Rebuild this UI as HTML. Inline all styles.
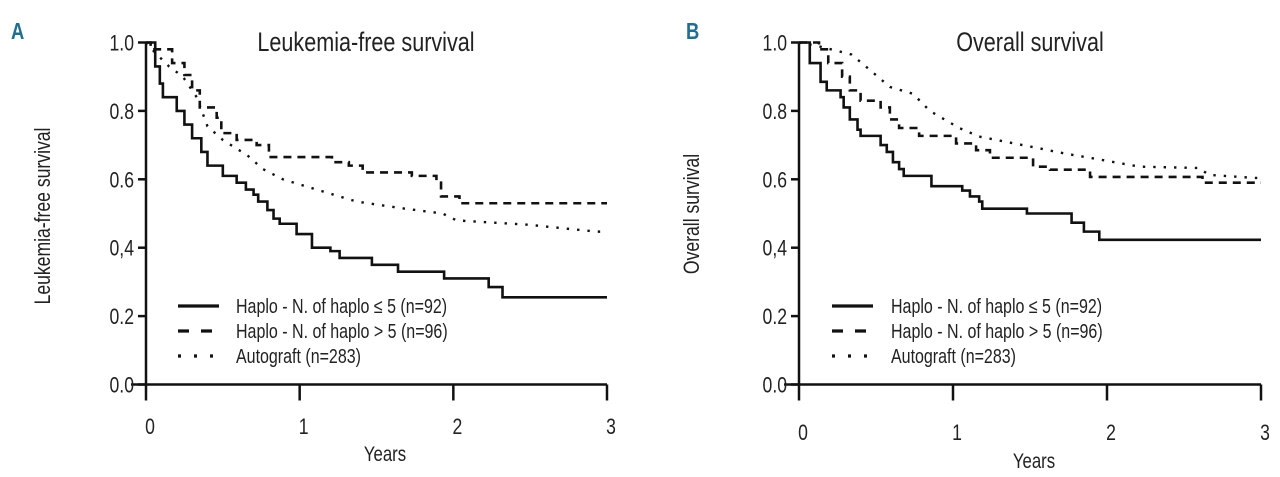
<!DOCTYPE html>
<html><head><meta charset="utf-8"><style>
html,body{margin:0;padding:0;background:#fff;}
svg{display:block;}
text{font-family:"Liberation Sans",sans-serif;fill:#222;transform-box:fill-box;transform:scaleX(0.8);}
text.ns{transform-origin:left center;}
text.nm{transform-origin:center center;}
text.ne{transform-origin:right center;}
</style></head><body>
<svg id="chart" width="1280" height="477" viewBox="0 0 1280 477" xmlns="http://www.w3.org/2000/svg">
<text x="11" y="39" class="ns" style="font-weight:bold;font-size:23px;fill:#1f6f93;">A</text>
<text x="686" y="39" class="ns" style="font-weight:bold;font-size:23px;fill:#1f6f93;">B</text>
<text x="366" y="51" class="nm" text-anchor="middle" font-size="27">Leukemia-free survival</text>
<text x="1030" y="51" class="nm" text-anchor="middle" font-size="27">Overall survival</text>
<g transform="translate(50,216) rotate(-90)"><text x="0" y="0" class="nm" text-anchor="middle" font-size="22">Leukemia-free survival</text></g>
<g transform="translate(699,214) rotate(-90)"><text x="0" y="0" class="nm" text-anchor="middle" font-size="22">Overall survival</text></g>
<text x="385" y="461" class="nm" text-anchor="middle" font-size="21">Years</text>
<text x="1034" y="468" class="nm" text-anchor="middle" font-size="21">Years</text>
<g id="gA"></g><g id="gB"></g>
</svg>
<script>
const yTickVals = [0, 0.2, 0.4, 0.6, 0.8, 1.0];
const yTickLabels = ["0.0", "0.2", "0,4", "0.6", "0.8", "1.0"];
const xTickVals = [0, 1, 2, 3];
const xTickLabels = ["0", "1", "2", "3"];
const legendLabels = ["Haplo - N. of haplo \u2264 5 (n=92)", "Haplo - N. of haplo > 5 (n=96)", "Autograft (n=283)"];

const aSolidT = [0,0.06,0.09,0.11,0.2,0.25,0.3,0.36,0.4,0.5,0.59,0.65,0.7,0.73,0.79,0.83,0.87,0.98,1.08,1.2,1.26,1.47,1.64,1.94,2.23,2.32];
const aSolidS = [1,0.93,0.88,0.84,0.80,0.76,0.72,0.68,0.64,0.61,0.59,0.57,0.555,0.535,0.51,0.485,0.47,0.44,0.40,0.39,0.37,0.35,0.33,0.31,0.285,0.255];
const aDashT = [0,0.03,0.17,0.25,0.3,0.35,0.46,0.49,0.59,0.72,0.8,1.21,1.32,1.41,1.73,1.89,1.92,2.04];
const aDashS = [1,0.98,0.94,0.905,0.86,0.81,0.78,0.735,0.715,0.70,0.665,0.65,0.64,0.62,0.61,0.59,0.55,0.53];
const aDotT = [0,0.06,0.15,0.24,0.33,0.40,0.5,0.66,0.76,0.89,1.11,1.37,1.67,1.93,2.02,2.49,2.93];
const aDotS = [1,0.97,0.93,0.90,0.84,0.755,0.715,0.67,0.63,0.60,0.57,0.535,0.515,0.50,0.48,0.467,0.447];

const bSolidT = [0,0.07,0.14,0.18,0.27,0.29,0.33,0.38,0.4,0.53,0.57,0.61,0.65,0.68,0.86,1.06,1.11,1.17,1.19,1.48,1.77,1.85,1.95];
const bSolidS = [1,0.94,0.885,0.86,0.84,0.81,0.775,0.745,0.727,0.70,0.68,0.65,0.63,0.61,0.58,0.567,0.55,0.535,0.514,0.50,0.473,0.447,0.423];
const bDashT = [0,0.13,0.19,0.28,0.33,0.4,0.53,0.59,0.65,0.78,1.02,1.15,1.24,1.52,1.63,1.89,2.62];
const bDashS = [1,0.98,0.94,0.90,0.86,0.83,0.81,0.775,0.75,0.727,0.705,0.685,0.663,0.637,0.628,0.607,0.59];
const bDotT = [0,0.12,0.34,0.46,0.59,0.74,0.85,1.04,1.17,1.51,1.73,1.9,2.21,2.6,2.66,2.96];
const bDotS = [1,0.99,0.965,0.92,0.87,0.85,0.80,0.75,0.725,0.695,0.675,0.662,0.637,0.633,0.613,0.604];

const NS = "http://www.w3.org/2000/svg";
function mk(tag, attrs, parent){const e=document.createElementNS(NS,tag);for(const k in attrs)e.setAttribute(k,attrs[k]);parent.appendChild(e);return e;}

function panel(g, id, x0, x3, tickLabelY, legX, legTextX, series){
  const y1 = 42.5, y0 = 384.5;
  const xs = t => x0 + (x3 - x0) * t / 3;
  const ys = v => y0 - (y0 - y1) * v;
  const ax = mk("path",{d:`M${x0} ${y1}V${y0}M${x0-15} ${y0}H${x3}`,stroke:"#111","stroke-width":2.5,fill:"none"},g);
  
  
  yTickVals.forEach((v,i)=>{
    const tk = mk("line",{x1:x0-8,x2:x0,y1:ys(v),y2:ys(v),stroke:"#111","stroke-width":2.5},g);
    
    
    const tl = mk("text",{x:x0-12,y:ys(v)+8,"text-anchor":"end","font-size":22,"class":"ne"},g);
    tl.textContent = yTickLabels[i];
    
    
  });
  xTickVals.forEach((v,i)=>{
    const tk = mk("line",{x1:xs(v),x2:xs(v),y1:y0,y2:y0+16,stroke:"#111","stroke-width":2.5},g);
    
    
    const tl = mk("text",{x:xs(v)+4,y:tickLabelY+1,"text-anchor":"middle","font-size":22,"class":"nm"},g);
    tl.textContent = xTickLabels[i];
    
    
  });
  const styles = [
    {w:2.6, dash:null, name:"haplo-le5-curve", smooth:false},
    {w:2.6, dash:"8 6", name:"haplo-gt5-curve", smooth:false},
    {w:2.4, dash:"2.4 8", name:"autograft-curve", smooth:true}
  ];
  series.forEach((s,k)=>{
    const T=s[0], S=s[1];
    const st = styles[k];
    let d=`M${xs(T[0])} ${ys(S[0])}`;
    for(let i=1;i<T.length;i++){
      if(st.smooth) d+=`L${xs(T[i])} ${ys(S[i])}`;
      else d+=`H${xs(T[i])}V${ys(S[i])}`;
    }
    d+=`H${xs(3)}`;
    const p = mk("path",{d:d,stroke:"#111","stroke-width":st.w,fill:"none"},g);
    if(st.dash) p.setAttribute("stroke-dasharray",st.dash);
    
    
    const ly = 306 + k*25;
    const ll = mk("line",{x1:legX,x2:legX+41,y1:ly,y2:ly,stroke:"#111","stroke-width":3.2},g);
    if(k==1) ll.setAttribute("stroke-dasharray","11 12");
    if(k==2) ll.setAttribute("stroke-dasharray","3 13");
    
    
    const lt = mk("text",{x:legTextX,y:ly+7,"font-size":20,"class":"ns"},g);
    lt.textContent = legendLabels[k];
    
    
  });
}
panel(document.getElementById("gA"),"panel-a",146,607,433,178,236,[[aSolidT,aSolidS],[aDashT,aDashS],[aDotT,aDotS]]);
panel(document.getElementById("gB"),"panel-b",799,1261,439,832,891,[[bSolidT,bSolidS],[bDashT,bDashS],[bDotT,bDotS]]);
</script>
</body></html>
